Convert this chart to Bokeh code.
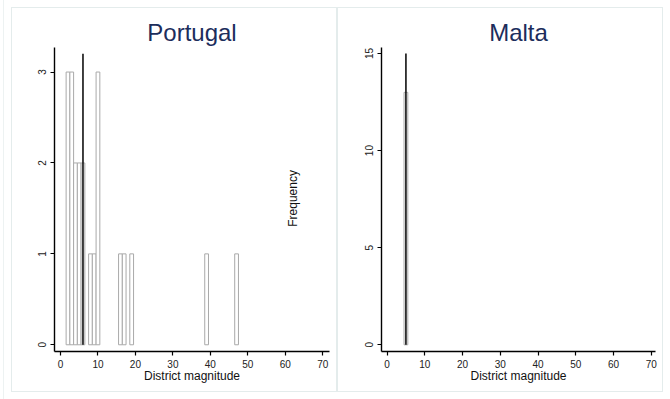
import math

from bokeh.plotting import figure
from bokeh.layouts import row
from bokeh.models import FixedTicker, Label, Range1d
from bokeh.embed import file_html
from bokeh.resources import INLINE

# Portugal: seats per district (district magnitude) and how many districts have it
pt_magnitude = [2, 3, 4, 5, 6, 8, 9, 10, 16, 17, 19, 39, 47]
pt_districts = [3, 3, 2, 2, 2, 1, 1, 3, 1, 1, 1, 1, 1]
pt_median = 6
pt_median_top = 3.2

# Malta: every district elects five members
mt_magnitude = [5]
mt_districts = [13]
mt_median = 5
mt_median_top = 15

x_ticks = [0, 10, 20, 30, 40, 50, 60, 70]
pt_y_ticks = [0, 1, 2, 3]
mt_y_ticks = [0, 5, 10, 15]

FONT = "Liberation Sans"
TITLE_COLOR = "#1c2d5c"
BORDER_COLOR = "#e4ecec"
OUTER_COLOR = "#edf2f2"


def panel(name, mags, counts, median, median_top, y_ticks, x_rng, y_rng,
          left, right, margin):
    p = figure(width=324, height=383, output_backend="svg", toolbar_location=None,
               x_range=Range1d(*x_rng), y_range=Range1d(*y_rng),
               min_border_left=left, min_border_right=right,
               min_border_top=39, min_border_bottom=42,
               margin=margin,
               styles={"border": f"1px solid {BORDER_COLOR}",
                       "box-sizing": "content-box"})
    p.background_fill_color = "white"
    p.border_fill_color = "white"
    p.outline_line_color = None
    p.xgrid.visible = False
    p.ygrid.visible = False

    p.title.text = name
    p.title.align = "center"
    p.title.text_font = FONT
    p.title.text_font_size = "24px"
    p.title.text_font_style = "normal"
    p.title.text_color = TITLE_COLOR
    p.title.standoff = 3

    # one-seat-wide bins
    p.quad(left=[m - 0.5 for m in mags], right=[m + 0.5 for m in mags],
           bottom=[0] * len(mags), top=counts,
           fill_color="white", line_color="#a9a9a9", line_width=1)
    # median district magnitude
    p.segment(x0=[median], x1=[median], y0=[0], y1=[median_top],
              line_color="#111111", line_width=1.6)

    for ax in (p.xaxis[0], p.yaxis[0]):
        ax.axis_line_color = "black"
        ax.axis_line_width = 1.4
        ax.major_tick_line_color = "black"
        ax.major_tick_line_width = 1.2
        ax.major_tick_in = 0
        ax.major_tick_out = 4
        ax.minor_tick_line_color = None
        ax.major_label_text_font = FONT
        ax.major_label_text_font_size = "10px"
        ax.major_label_text_color = "#222222"
        ax.major_label_standoff = 4

    p.xaxis.ticker = FixedTicker(ticks=x_ticks)
    p.yaxis.ticker = FixedTicker(ticks=y_ticks)
    p.yaxis.major_label_orientation = "vertical"

    p.xaxis.axis_label = "District magnitude"
    p.xaxis.axis_label_text_font = FONT
    p.xaxis.axis_label_text_font_size = "12px"
    p.xaxis.axis_label_text_font_style = "normal"
    p.xaxis.axis_label_text_color = "#111111"
    p.xaxis.axis_label_standoff = -2
    return p


p1 = panel("Portugal", pt_magnitude, pt_districts, pt_median, pt_median_top, pt_y_ticks,
           (-1.6, 71.8), (-0.074, 3.27), 42, 9, (7, 0, 7, 7))
p1.add_layout(Label(x=62.0, y=1.61, text="Frequency", angle=math.pi / 2,
                    text_font=FONT, text_font_size="12px", text_color="#111111",
                    text_align="center", text_baseline="middle"))

p2 = panel("Malta", mt_magnitude, mt_districts, mt_median, mt_median_top, mt_y_ticks,
           (-1.47, 71.1), (-0.345, 15.31), 43, 9, (7, 0, 7, 0))

layout = row(p1, p2, margin=(0, 0, 0, 3),
             styles={"border-left": f"1px solid {OUTER_COLOR}"})
open("out.html", "w").write(file_html(layout, INLINE))
